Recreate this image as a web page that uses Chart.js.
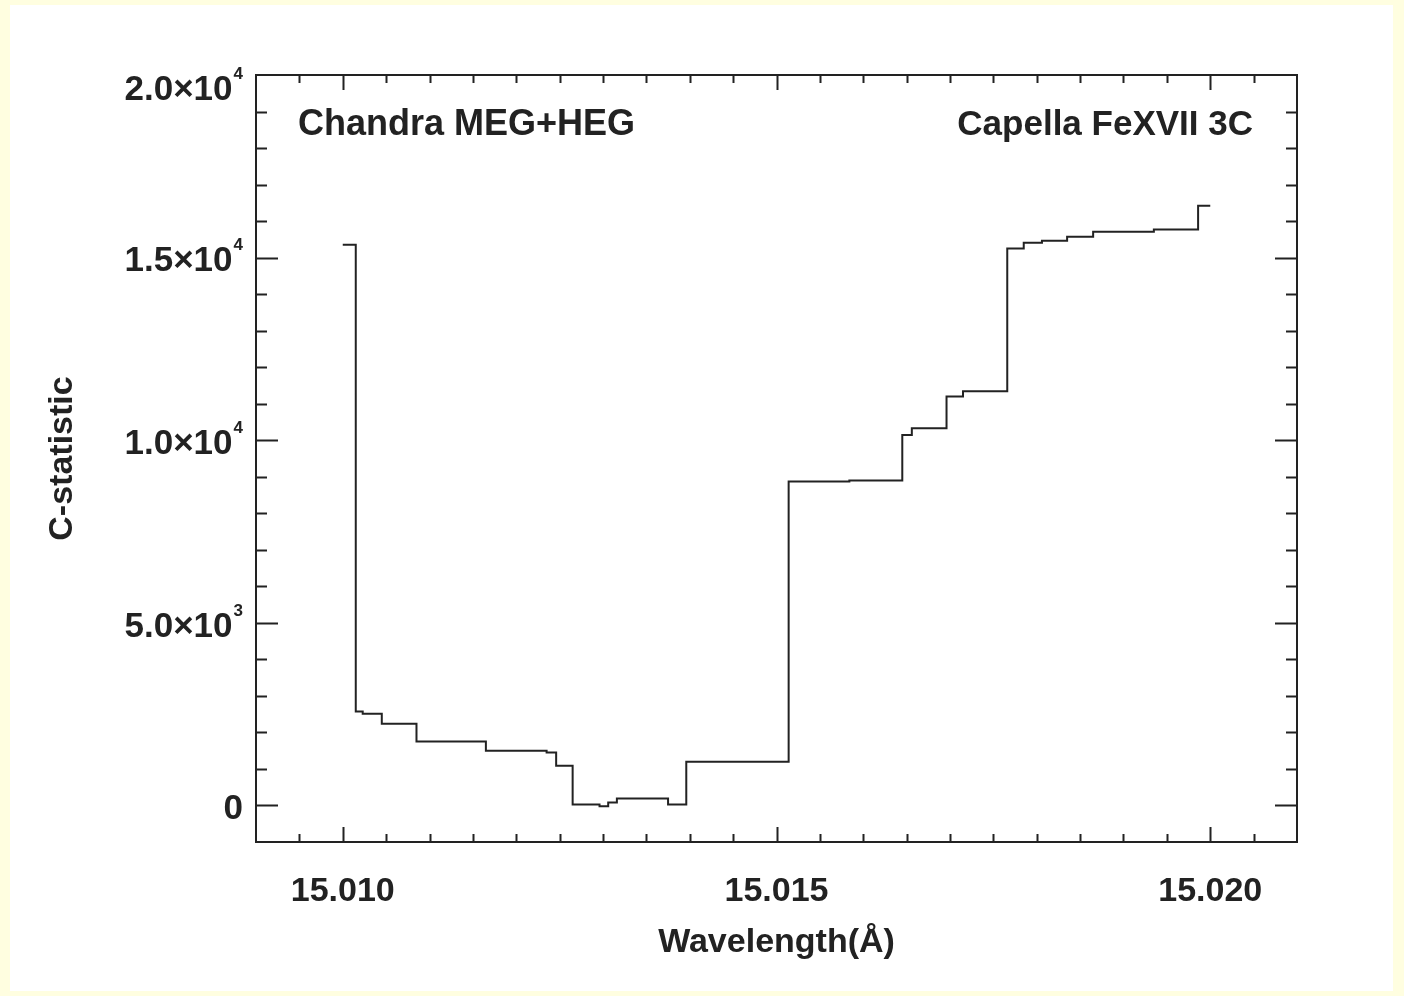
<!DOCTYPE html>
<html>
<head>
<meta charset="utf-8">
<title>Capella FeXVII 3C - C-statistic</title>
<script src="https://cdn.jsdelivr.net/npm/chart.js@4/dist/chart.umd.min.js"></script>
<style>
    html, body { margin: 0; padding: 0; background: #fffee0; }
    #panel {
        position: absolute;
        left: 10px; top: 5px;
        width: 1383px; height: 986px;
        background: #ffffff;
    }
</style>
</head>
<body>
<div id="panel"><canvas id="chart" width="1383" height="986"></canvas></div>
<script>
// Step curve: left edge of each bin (Angstrom) and its C-statistic value
const wavelength = [
    15.01000, 15.01015, 15.01023, 15.01045, 15.01085, 15.01165, 15.01235,
    15.01246, 15.01265, 15.01296, 15.01306, 15.01316, 15.01375, 15.01396,
    15.01514, 15.01584, 15.01645, 15.01656, 15.01696, 15.01715, 15.01766,
    15.01785, 15.01806, 15.01835, 15.01865, 15.01935, 15.01986, 15.02000
];
const cstat = [
    15350, 2570, 2510, 2240, 1750, 1500, 1450,
    1090, 30, -20, 80, 190, 30, 1200,
    8870, 8900, 10140, 10330, 11200, 11340, 15250,
    15410, 15460, 15570, 15710, 15770, 16420, 16420
];

// Axes
const xRange = [15.009, 15.021];
const yRange = [-1000, 20000];
const xTickValues = [15.010, 15.015, 15.020];
const xTickLabels = ['15.010', '15.015', '15.020'];
const xMinorStep = 0.0005;
const yTickValues = [20000, 15000, 10000, 5000, 0];
const yTickBase = ['2.0\u00d710', '1.5\u00d710', '1.0\u00d710', '5.0\u00d710', '0'];
const yTickExp = ['4', '4', '4', '3', ''];
const yMinorStep = 1000;

const INK = '#222222';
const FONT = '"Liberation Sans", Arial, Helvetica, sans-serif';

/**
 * Draws the IDL-style frame: box, inward ticks on all four sides,
 * tick labels with superscript exponents and the two corner notes.
 */
const idlFrame = {
    id: 'idlFrame',
    afterDatasetsDraw(chart) {
        const { ctx, chartArea: a, scales: { x, y } } = chart;
        ctx.save();
        ctx.strokeStyle = INK;
        ctx.lineWidth = 2;
        ctx.strokeRect(a.left, a.top, a.right - a.left, a.bottom - a.top);

        const isMajor = (v, list) => list.some(m => Math.abs(m - v) < 1e-9);

        // x ticks (bottom and top)
        const nx = Math.round((xRange[1] - xRange[0]) / xMinorStep);
        ctx.beginPath();
        for (let k = 1; k < nx; k++) {
            const v = xRange[0] + k * xMinorStep;
            const len = isMajor(v, xTickValues) ? 15 : 8;
            const px = Math.round(x.getPixelForValue(v)) + 0.5;
            ctx.moveTo(px, a.bottom); ctx.lineTo(px, a.bottom - len);
            ctx.moveTo(px, a.top); ctx.lineTo(px, a.top + len);
        }
        // y ticks (left and right)
        const ny = Math.round((yRange[1] - yRange[0]) / yMinorStep);
        for (let k = 1; k < ny; k++) {
            const v = yRange[0] + k * yMinorStep;
            const len = isMajor(v, yTickValues) ? 22 : 11;
            const py = Math.round(y.getPixelForValue(v)) + 0.5;
            ctx.moveTo(a.left, py); ctx.lineTo(a.left + len, py);
            ctx.moveTo(a.right, py); ctx.lineTo(a.right - len, py);
        }
        ctx.stroke();

        ctx.fillStyle = INK;
        ctx.textBaseline = 'middle';

        // x tick labels
        ctx.font = 'bold 34px ' + FONT;
        ctx.textAlign = 'center';
        xTickValues.forEach((v, i) => {
            ctx.fillText(xTickLabels[i], x.getPixelForValue(v), a.bottom + 50);
        });

        // y tick labels, right aligned, with raised exponent
        const right = a.left - 13;
        yTickValues.forEach((v, i) => {
            const py = Math.max(y.getPixelForValue(v) + 4, a.top + 15);
            ctx.textAlign = 'right';
            let edge = right;
            if (yTickExp[i]) {
                ctx.font = 'bold 17px ' + FONT;
                ctx.fillText(yTickExp[i], edge, py - 16);
                edge -= ctx.measureText(yTickExp[i]).width + 1;
            }
            ctx.font = 'bold 35px ' + FONT;
            ctx.fillText(yTickBase[i], edge, py);
        });

        // corner notes
        ctx.font = 'bold 36px ' + FONT;
        ctx.textAlign = 'left';
        ctx.fillText('Chandra MEG+HEG', a.left + 42, a.top + 50);
        ctx.font = 'bold 35px ' + FONT;
        ctx.textAlign = 'right';
        ctx.fillText('Capella FeXVII 3C', a.right - 44, a.top + 50);
        ctx.restore();
    }
};

const ctx = document.getElementById('chart').getContext('2d');
new Chart(ctx, {
    type: 'line',
    data: {
        datasets: [{
            data: wavelength.map((w, i) => ({ x: w, y: cstat[i] })),
            borderColor: INK,
            borderWidth: 2,
            pointRadius: 0,
            stepped: 'before',
            fill: false
        }]
    },
    options: {
        responsive: false,
        animation: false,
        events: [],
        layout: { padding: { left: 0, right: 96, top: 70, bottom: 0 } },
        plugins: { legend: { display: false }, tooltip: { enabled: false } },
        scales: {
            x: {
                type: 'linear',
                min: xRange[0],
                max: xRange[1],
                grid: { display: false },
                border: { display: false },
                ticks: { display: false },
                title: {
                    display: true,
                    text: 'Wavelength(\u00c5)',
                    color: INK,
                    font: { family: FONT, size: 34, weight: 'bold' },
                    padding: { top: 0, bottom: 28 }
                },
                afterFit(scale) { scale.height = 149; }
            },
            y: {
                type: 'linear',
                min: yRange[0],
                max: yRange[1],
                grid: { display: false },
                border: { display: false },
                ticks: { display: false },
                title: {
                    display: true,
                    text: 'C-statistic',
                    color: INK,
                    font: { family: FONT, size: 34, weight: 'bold' },
                    padding: { top: 32, bottom: 0 }
                },
                afterFit(scale) { scale.width = 246; }
            }
        }
    },
    plugins: [idlFrame]
});
</script>
</body>
</html>
